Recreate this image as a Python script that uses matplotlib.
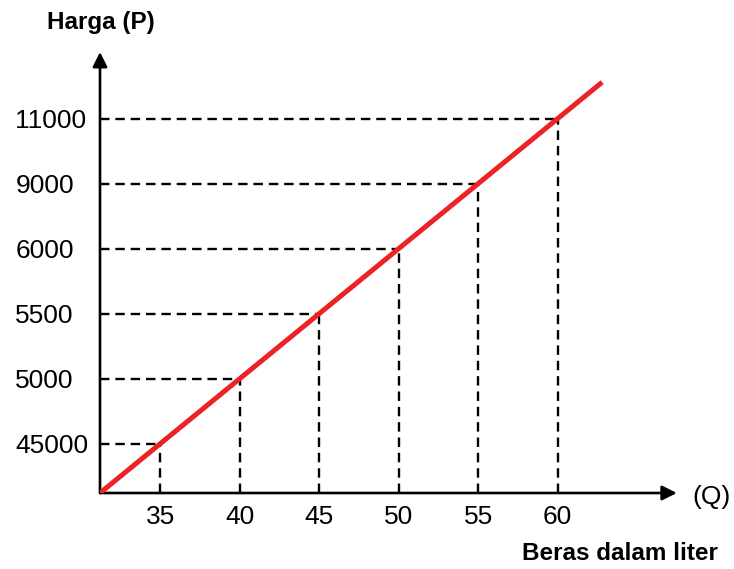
import matplotlib
matplotlib.use("Agg")
import matplotlib.pyplot as plt

# -------------------------------
# DATA
# -------------------------------
jumlah_q = [35, 40, 45, 50, 55, 60]
harga_labels = ["45000", "5000", "5500", "6000", "9000", "11000"]

# straight supply line (schematic): start / end of Q and slope in plot units
q_start, q_end = 31.2, 62.8
slope = 13.0


def kurva(q):
    return slope * (q - q_start)


# -------------------------------
# FIGURE
# -------------------------------
plt.rcParams["font.family"] = ["Liberation Sans", "DejaVu Sans"]

W, H = 734, 569
fig = plt.figure(figsize=(W / 100, H / 100), dpi=100)
ax = fig.add_axes([100 / W, (H - 493) / H, 580 / W, 448 / H])
ax.set_xlim(q_start, 67.7)
ax.set_ylim(0, 448)
for s in ax.spines.values():
    s.set_visible(False)

# dashed guide lines
dash = (0, (4, 2.5))
for q in jumlah_q:
    y = kurva(q)
    ax.plot([q_start, q], [y, y], color="black", lw=1.7, linestyle=dash)
    ax.plot([q, q], [0, y], color="black", lw=1.7, linestyle=dash)

# supply line
ax.plot([q_start, q_end], [kurva(q_start), kurva(q_end)],
        color="#ec2226", lw=3.6, solid_capstyle="butt", zorder=4)

# axes with arrows
arrow = dict(arrowstyle="-|>", lw=1.9, color="black", mutation_scale=22,
             shrinkA=0, shrinkB=0)
ax.annotate("", xy=(67.5, 0), xytext=(q_start, 0), arrowprops=arrow,
            annotation_clip=False)
ax.annotate("", xy=(q_start, 441), xytext=(q_start, 0), arrowprops=arrow,
            annotation_clip=False)

# ticks (y labels left-aligned like the reference)
ax.set_xticks(jumlah_q, [str(q) for q in jumlah_q])
ax.set_yticks([kurva(q) for q in jumlah_q], harga_labels)
ax.tick_params(axis="x", length=0, pad=9, labelsize=19)
ax.tick_params(axis="y", length=0, pad=61, labelsize=19)
for lbl in ax.get_yticklabels():
    lbl.set_horizontalalignment("left")

# labels
fig.text(101 / W, 1 - 22 / H, "Harga (P)", ha="center", va="center",
         fontsize=17.5, fontweight="bold")
fig.text(712 / W, 1 - 497 / H, "(Q)", ha="center", va="center",
         fontsize=19)
fig.text(620 / W, 1 - 554 / H, "Beras dalam liter", ha="center", va="center",
         fontsize=17.5, fontweight="bold")

fig.savefig("out.png", dpi=100)
